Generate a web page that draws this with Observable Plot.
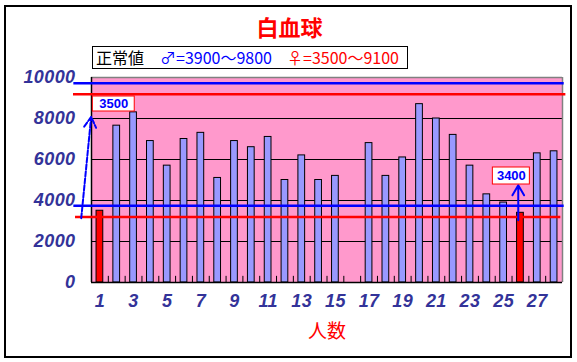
<!DOCTYPE html>
<html><head><meta charset="utf-8">
<script src="https://cdn.jsdelivr.net/npm/d3@7"></script>
<script src="https://cdn.jsdelivr.net/npm/@observablehq/plot@0.6"></script>
<style>
body{margin:0;background:#fff;}
#wrap{position:relative;width:577px;height:362px;overflow:hidden;}
#wrap svg{position:absolute;left:0;top:0;}
#border{position:absolute;left:4px;top:5px;width:568px;height:353px;border:2px solid #000;box-sizing:border-box;pointer-events:none;}
#title{position:absolute;left:0;width:579px;top:15px;text-align:center;font:bold 22px "Noto Sans CJK JP";color:#ff0000;line-height:1;}
#legend{position:absolute;left:92px;top:46px;width:316px;height:23px;border:1.5px solid #000;box-sizing:border-box;background:#fff;}
#legend span{position:absolute;top:1px;font:16px "Noto Sans CJK JP";line-height:1.2;white-space:nowrap;}
#xtitle{position:absolute;left:0;width:654px;top:320px;text-align:center;font:19px "Noto Sans CJK JP";color:#ff0000;line-height:1;}
svg g[aria-label^="y-axis"] text, svg g[aria-label^="x-axis"] text{font:italic bold 18px "Liberation Sans";fill:#333399;letter-spacing:0.4px;}
</style></head>
<body>
<div id="wrap">
<div id="title">白血球</div>
<div id="legend"><span style="left:3px;color:#000">正常値</span><span style="left:67px;color:#0000ff">♂=3900〜9800</span><span style="left:194px;color:#ff0000">♀=3500〜9100</span></div>
<div id="xtitle">人数</div>
<div id="border"></div>
</div>
<script>
const counts = [1,2,3,4,5,6,7,8,9,10,11,12,13,14,15,16,17,18,19,20,21,22,23,24,25,26,27,28];
const wbc = [3500,7650,8300,6900,5700,7000,7300,5100,6900,6600,7100,5000,6200,5000,5200,null,6800,5200,6100,8700,8000,7200,5700,4300,3900,3400,6300,6400];
const sex = ["F","M","M","M","M","M","M","M","M","M","M","M","M","M","M","M","M","M","M","M","M","M","M","M","M","F","M","M"];
const yTicks = [0,2000,4000,6000,8000,10000];
const gridValues = [2000,4000,6000,8000];
const xTickLabels = [1,3,5,7,9,11,13,15,17,19,21,23,25,27];
// normal-range guide lines as drawn in the picture
const maleLines = [3750,9720];
const femaleLines = [3190,9180];
const notes = [{label:"3500"},{label:"3400"}];

const data = counts.map((n,i)=>({n, v: wbc[i], sex: sex[i]})).filter(d=>d.v!=null);
const boundaries = counts.slice(0,-1).map(n=>n+0.5);

const plot = Plot.plot({
  width:577, height:362,
  marginTop:77, marginBottom:80, marginLeft:91, marginRight:15,
  style:{background:"transparent", overflow:"visible"},
  x:{domain:[0.5,28.5], ticks:xTickLabels, tickFormat:d=>String(d), tickSize:0, tickPadding:12, label:null},
  y:{domain:[0,10000], ticks:yTicks, tickSize:0, tickPadding:16, label:null, tickFormat:d=>String(d)},
  marks:[
    Plot.frame({fill:"#ff99cc", stroke:"none"}),
    Plot.ruleY(gridValues, {stroke:"#000", strokeWidth:1}),
    Plot.ruleX(boundaries, {y1:0, y2:300, stroke:"#000", strokeWidth:1}),
    Plot.rectY(data, {x1:d=>d.n-0.2, x2:d=>d.n+0.2, y:"v", fill:d=>d.sex==="F"?"#ff0000":"#9999ff", stroke:"#000", strokeWidth:1}),
    Plot.ruleY([10000], {stroke:"#808080", strokeWidth:1.5}),
    Plot.ruleX([28.5], {stroke:"#808080", strokeWidth:1.5}),
    Plot.ruleX([0.5], {stroke:"#000", strokeWidth:1.5}),
    Plot.ruleY([0], {stroke:"#000", strokeWidth:1.5}),
    Plot.ruleY(maleLines, {x1:-0.55, x2:28.6, stroke:"#0000ff", strokeWidth:2.5}),
    Plot.ruleY([femaleLines[1]], {x1:-0.57, x2:28.7, stroke:"#ff0000", strokeWidth:2.5}),
    Plot.ruleY([femaleLines[0]], {x1:-0.45, x2:28.4, stroke:"#ff0000", strokeWidth:2.5}),
    Plot.arrow([notes[0]], {x1:-0.11, y1:3137, x2:0.48, y2:8078, stroke:"#0000ff", strokeWidth:2, strokeDasharray:"5,2", headLength:9}),
    Plot.arrow([notes[1]], {x1:25.87, y1:3039, x2:25.87, y2:4746, stroke:"#0000ff", strokeWidth:2, headLength:9}),
    Plot.rect([notes[0]], {x1:0.58, x2:3.07, y1:8341, y2:9073, fill:"#fff", stroke:"#ff0000", strokeWidth:1}),
    Plot.rect([notes[1]], {x1:24.36, x2:26.56, y1:4780, y2:5610, fill:"#fff", stroke:"#ff0000", strokeWidth:1}),
    Plot.text([notes[0]], {x:1.82, y:8707, text:"label", fill:"#0000ff", fontWeight:"bold", fontSize:13, fontFamily:"Liberation Sans"}),
    Plot.text([notes[1]], {x:25.46, y:5195, text:"label", fill:"#0000ff", fontWeight:"bold", fontSize:13, fontFamily:"Liberation Sans"})
  ]
});
document.getElementById("wrap").insertBefore(plot, document.getElementById("title"));
</script>
</body></html>
